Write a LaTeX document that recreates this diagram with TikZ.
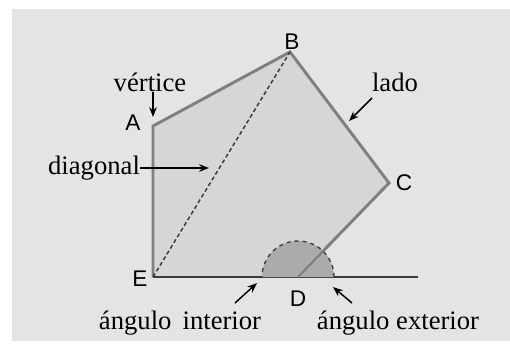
\documentclass[tikz,border=0pt]{standalone}
\usepackage{fontspec}
\setmainfont{Liberation Serif}
\newfontfamily\vertexfont{Liberation Sans}
\usepackage{tikz}
\usetikzlibrary{arrows.meta}
\definecolor{paper}{HTML}{E4E4E4}
\definecolor{facefill}{HTML}{D6D6D6}
\definecolor{edgegray}{HTML}{808080}
\definecolor{anglefill}{HTML}{ABABAB}
\definecolor{darkline}{HTML}{3A3A3A}

\begin{document}
\begin{tikzpicture}[
  x=0.75pt, y=0.75pt,
  word/.style={font=\fontsize{20}{23}\selectfont, inner sep=0pt},
  vtx/.style={font=\vertexfont\fontsize{17}{20}\selectfont, inner sep=0pt},
  side/.style={draw=edgegray, line width=2.2pt, line join=miter},
  arr/.style={-{Stealth[length=2.6mm, width=2mm]}, line width=1.1pt, draw=black},
]
\useasboundingbox (0,0) rectangle (510,351);
\fill[paper] (12,10) rectangle (510,342);
% polygon corners
\coordinate (A) at (153,225);
\coordinate (B) at (290,299);
\coordinate (C) at (389,168);
\coordinate (D) at (298,74);
\coordinate (E) at (153,74);
\coordinate (ext) at (418,74);
\fill[facefill] (A) -- (B) -- (C) -- (D) -- (E) -- cycle;
\draw[side] (E) -- (A) -- (B) -- (C) -- (D);
\draw[darkline, line width=1.6pt] (E) -- (ext);
% angle at D
\filldraw[fill=anglefill, draw=darkline, dashed, line width=1pt] ([xshift=27pt]D) arc[start angle=0, end angle=180, radius=27pt];
\draw[edgegray, line width=1.6pt] (D) -- (C);
\draw[darkline, densely dashed, line width=1.1pt] (E) -- (B);
% vertex letters
\node[vtx] (lB) at (292,309) {B};
\node[vtx] (lA) at (133,228) {A};
\node[vtx] (lC) at (404,168) {C};
\node[vtx] (lE) at (140,72) {E};
\node[vtx] (lD) at (298,52) {D};
% labels
\node[word] (vert) at (150,269) {vértice};
\coordinate (vertTip) at (153,234);
\draw[arr] (vert.south -| vertTip) -- (vertTip);
\node[word] (side) at (395,269) {lado};
\coordinate (sideTail) at (372,253);
\coordinate (sideTip) at (349,230);
\draw[arr] (sideTail) -- (sideTip);
\node[word] (diag) at (94,183) {diagonal};
\coordinate (diagTip) at (209,183);
\draw[arr] (diag.east) -- (diagTip);
\node[word] (inner) at (180,28) {ángulo\, interior};
\coordinate (innerTail) at (235,48);
\coordinate (innerTip) at (257,68);
\draw[arr] (innerTail) -- (innerTip);
\node[word] (outer) at (398,28) {ángulo exterior};
\coordinate (outerTail) at (352,48);
\coordinate (outerTip) at (333,64);
\draw[arr] (outerTail) -- (outerTip);
\end{tikzpicture}
\end{document}
